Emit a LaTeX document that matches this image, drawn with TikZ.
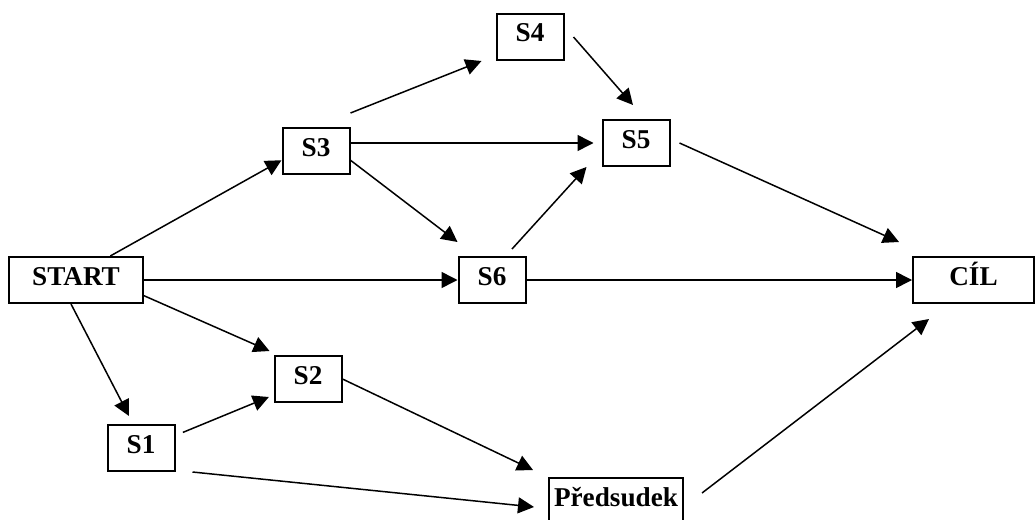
\documentclass[tikz,border=0pt]{standalone}
\usepackage{fontspec}
\setmainfont{Liberation Serif}
\usetikzlibrary{arrows.meta}

\begin{document}
\begin{tikzpicture}[x=0.5pt, y=-0.5pt,
    box/.style={draw, rectangle, line width=1pt, inner sep=0pt, minimum width=33.5pt, minimum height=23pt,
        text height=10pt, text depth=5pt, font=\fontsize{13.6}{15}\selectfont\bfseries},
    arr/.style={-{Triangle[length=8pt, width=8pt]}, line width=0.75pt}]
\useasboundingbox (0,0) rectangle (1036,519);
% Nodes
\node[box, minimum width=67pt] (start) at (76,280) {START};
\node[box] (s3) at (316,151) {S3};
\node[box] (s4) at (530,37) {S4};
\node[box] (s5) at (636,143) {S5};
\node[box] (s6) at (492,280) {S6};
\node[box, minimum width=60.5pt] (cil) at (973.5,280) {CÍL};
\node[box] (s2) at (308,379) {S2};
\node[box] (s1) at (141,448) {S1};
\node[box, minimum width=67pt] (pred) at (616,501) {Předsudek};

% Arrows
\draw[arr] (start.35) -- (s3.195);
\draw[arr] (start.east) -- (s6.west);
\draw[arr] (start.-13) -- ([xshift=-2pt, yshift=2pt]s2.north west);
\draw[arr] ([xshift=-2.5pt]start.south) -- ([xshift=-6pt, yshift=4pt]s1.north);
\draw[arr, shorten <=4pt, shorten >=2.5pt] (s1.20) -- (s2.205);
\draw[arr] ([xshift=8.5pt]s1.south east) -- ([xshift=-7pt, yshift=-3pt]pred.west);
\draw[arr] (s2.east) -- ([xshift=-7.5pt, yshift=3.5pt]pred.north west);
\draw[arr] ([xshift=9pt, yshift=4pt]pred.east) -- ([xshift=8.5pt, yshift=-7.5pt]cil.south west);
\draw[arr] ([yshift=7pt]s3.north east) -- ([xshift=-7pt]s4.south west);
\draw[arr] ([xshift=4.5pt]s4.east) -- ([xshift=-1.5pt, yshift=7pt]s5.north);
\draw[arr] (s3.east |- s5.west) -- ([xshift=-4pt]s5.west);
\draw[arr] (s3.-15) -- ([yshift=7pt]s6.north west);
\draw[arr] ([xshift=10pt, yshift=3.5pt]s6.north) -- ([xshift=-7.5pt]s5.south west);
\draw[arr] ([xshift=4.5pt]s5.east) -- ([xshift=-6.5pt, yshift=7pt]cil.north west);
\draw[arr] (s6.east) -- (cil.west);
\end{tikzpicture}
\end{document}
